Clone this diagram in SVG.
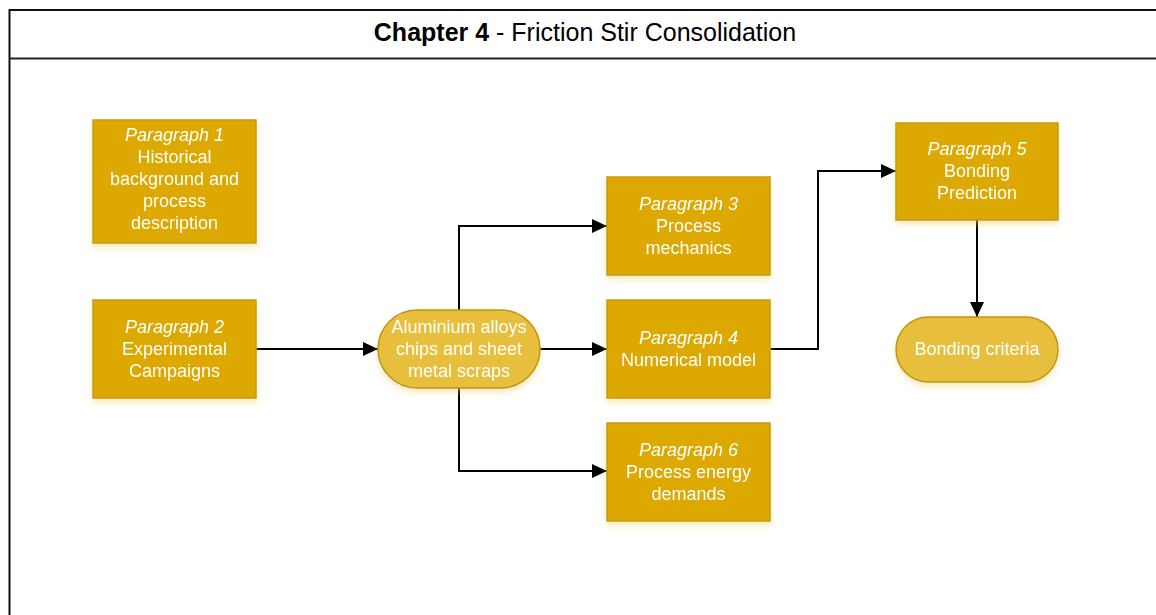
<svg xmlns="http://www.w3.org/2000/svg" width="1156" height="615" viewBox="0 0 1156 615">
<style>
.box{fill:#DDA800;stroke:#C39A10;stroke-width:1.5}
.oval{fill:#E8BF3C;stroke:#C09412;stroke-width:1.5}
.t{font-family:"Liberation Sans",Arial,sans-serif;font-size:18px;fill:#ffffff;text-anchor:middle}
.i{font-style:italic}
.c{fill:none;stroke:#000;stroke-width:2}
.title{font-family:"Liberation Sans",Arial,sans-serif;font-size:25px;fill:#000;text-anchor:middle}
</style>
<defs>
<marker id="arr" markerUnits="userSpaceOnUse" markerWidth="16" markerHeight="16" viewBox="0 0 16 16" refX="15" refY="8" orient="auto">
<path d="M0,1 L15,8 L0,15 Z" fill="#000"/>
</marker>
<filter id="sh" x="-20%" y="-20%" width="140%" height="150%">
<feDropShadow dx="0" dy="4" stdDeviation="3" flood-color="#F2D070" flood-opacity="0.45"/>
</filter>
</defs>
<rect width="1156" height="615" fill="#fff"/>
<g id="frame">
<rect x="9.5" y="10" width="1160" height="620" fill="none" stroke="#111" stroke-width="2"/>
<line x1="9.5" y1="58.5" x2="1160" y2="58.5" stroke="#222" stroke-width="2"/>
<text class="title" x="585" y="41"><tspan font-weight="bold">Chapter 4</tspan> - Friction Stir Consolidation</text>
</g>
<g id="connectors">
<line class="c" x1="256" y1="349" x2="378" y2="349" marker-end="url(#arr)"/>
<polyline class="c" points="459,310 459,226 607,226" marker-end="url(#arr)"/>
<line class="c" x1="540" y1="349" x2="607" y2="349" marker-end="url(#arr)"/>
<polyline class="c" points="459,388 459,471 607,471" marker-end="url(#arr)"/>
<polyline class="c" points="770,349 818,349 818,171 896,171" marker-end="url(#arr)"/>
<line class="c" x1="977" y1="220" x2="977" y2="317" marker-end="url(#arr)"/>
</g>
<g id="p1" filter="url(#sh)">
<rect class="box" x="93" y="120" width="163" height="123"/>
<text class="t"><tspan class="i" x="174.5" y="141">Paragraph 1</tspan><tspan x="174.5" y="163">Historical</tspan><tspan x="174.5" y="185">background and</tspan><tspan x="174.5" y="207">process</tspan><tspan x="174.5" y="229">description</tspan></text>
</g>
<g id="p2" filter="url(#sh)">
<rect class="box" x="93" y="300" width="163" height="98"/>
<text class="t"><tspan class="i" x="174.5" y="333">Paragraph 2</tspan><tspan x="174.5" y="355">Experimental</tspan><tspan x="174.5" y="377">Campaigns</tspan></text>
</g>
<g id="alloys" filter="url(#sh)">
<rect class="oval" x="378" y="310" width="162" height="78" rx="39" ry="39"/>
<text class="t"><tspan x="459" y="333">Aluminium alloys</tspan><tspan x="459" y="355">chips and sheet</tspan><tspan x="459" y="377">metal scraps</tspan></text>
</g>
<g id="p3" filter="url(#sh)">
<rect class="box" x="607" y="177" width="163" height="98"/>
<text class="t"><tspan class="i" x="688.5" y="210">Paragraph 3</tspan><tspan x="688.5" y="232">Process</tspan><tspan x="688.5" y="254">mechanics</tspan></text>
</g>
<g id="p4" filter="url(#sh)">
<rect class="box" x="607" y="300" width="163" height="98"/>
<text class="t"><tspan class="i" x="688.5" y="344">Paragraph 4</tspan><tspan x="688.5" y="366">Numerical model</tspan></text>
</g>
<g id="p6" filter="url(#sh)">
<rect class="box" x="607" y="423" width="163" height="98"/>
<text class="t"><tspan class="i" x="688.5" y="456">Paragraph 6</tspan><tspan x="688.5" y="478">Process energy</tspan><tspan x="688.5" y="500">demands</tspan></text>
</g>
<g id="p5" filter="url(#sh)">
<rect class="box" x="896" y="123" width="162" height="97"/>
<text class="t"><tspan class="i" x="977" y="155">Paragraph 5</tspan><tspan x="977" y="177">Bonding</tspan><tspan x="977" y="199">Prediction</tspan></text>
</g>
<g id="criteria" filter="url(#sh)">
<rect class="oval" x="896" y="317" width="162" height="65" rx="32.5" ry="32.5"/>
<text class="t" x="977" y="355">Bonding criteria</text>
</g>
</svg>
